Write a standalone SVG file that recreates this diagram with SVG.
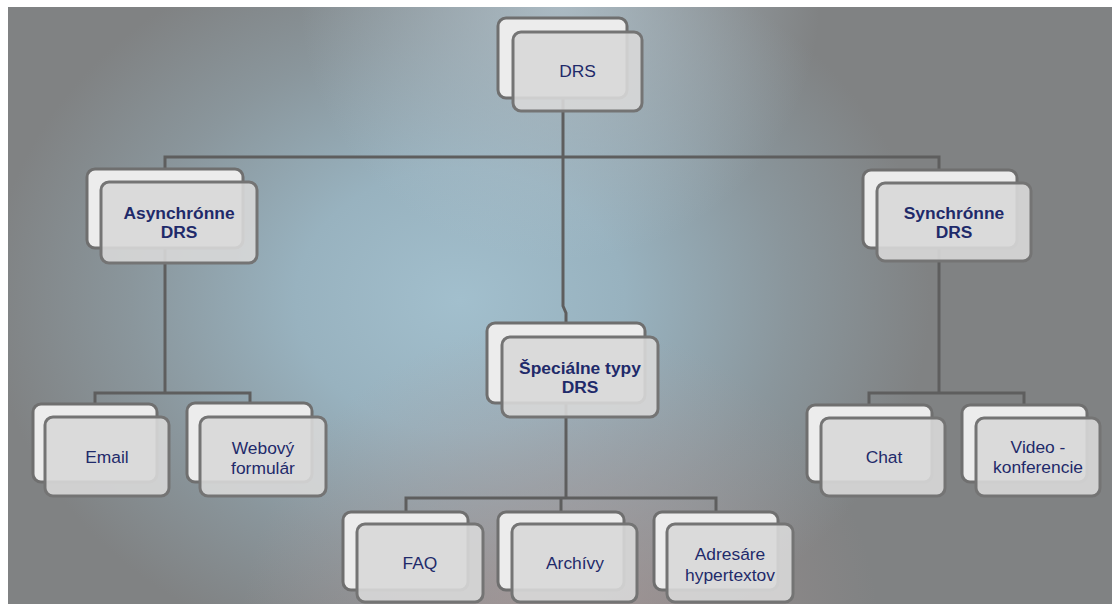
<svg xmlns="http://www.w3.org/2000/svg" width="1112" height="604" viewBox="0 0 1112 604">
  <defs>
    <radialGradient id="glow" cx="460" cy="300" r="470" gradientUnits="userSpaceOnUse" gradientTransform="translate(460 300) scale(1 0.8) translate(-460 -300)">
      <stop offset="0" stop-color="#a2bfcd"/>
      <stop offset="0.35" stop-color="#98b2bf"/>
      <stop offset="0.7" stop-color="#8a969c"/>
      <stop offset="1" stop-color="#808283"/>
    </radialGradient>
    <radialGradient id="topGlow" cx="560" cy="0" r="260" gradientUnits="userSpaceOnUse">
      <stop offset="0" stop-color="#b4c5cf" stop-opacity="0.8"/>
      <stop offset="1" stop-color="#b4c5cf" stop-opacity="0"/>
    </radialGradient>
    <radialGradient id="bottomGlow" cx="560" cy="640" r="320" gradientUnits="userSpaceOnUse">
      <stop offset="0" stop-color="#b09a98" stop-opacity="0.7"/>
      <stop offset="1" stop-color="#b09a98" stop-opacity="0"/>
    </radialGradient>
  </defs>
  <style>
    .bg-back { fill: #ececec; stroke: #6f6f6f; stroke-width: 3; }
    .bg-front { fill: #d8d8d8; fill-opacity: 0.9; stroke: #747474; stroke-width: 3; }
    .link { fill: none; stroke: #5e5e5e; stroke-width: 3; }
    .lbl { font-family: "Liberation Sans", Arial, sans-serif; font-size: 17.4px; fill: #1f2a6a; text-anchor: middle; }
    .bold { font-weight: bold; }
  </style>

  <!-- backdrop -->
  <rect x="0" y="0" width="1112" height="604" fill="#ffffff"/>
  <rect x="8" y="7" width="1104" height="597" fill="url(#glow)"/>
  <rect x="8" y="7" width="1104" height="597" fill="url(#topGlow)"/>
  <rect x="8" y="7" width="1104" height="597" fill="url(#bottomGlow)"/>

  <!-- connectors -->
  <g id="connectors" class="link">
    <path d="M563,98 V306 L566,313 V323"/>
    <path d="M165,169 V157 H939 V170"/>
    <path d="M165,248 V393"/>
    <path d="M95,404 V393 H250 V403"/>
    <path d="M939,248 V393"/>
    <path d="M869,405 V393 H1024 V405"/>
    <path d="M566,403 V498"/>
    <path d="M406,512 V498 H716 V512"/>
    <path d="M561,498 V512"/>
  </g>

  <!-- nodes -->
  <g id="drs">
    <rect class="bg-back" x="498" y="18" width="129" height="80" rx="8"/>
    <rect class="bg-front" x="513" y="32" width="129" height="79" rx="8"/>
    <text class="lbl" x="577.5" y="77">DRS</text>
  </g>

  <g id="asynchronne">
    <rect class="bg-back" x="87" y="169" width="156" height="79" rx="8"/>
    <rect class="bg-front" x="101" y="182" width="156" height="81" rx="8"/>
    <text class="lbl bold" x="179" y="219">Asynchrónne</text>
    <text class="lbl bold" x="179" y="238">DRS</text>
  </g>

  <g id="synchronne">
    <rect class="bg-back" x="863" y="170" width="154" height="78" rx="8"/>
    <rect class="bg-front" x="877" y="183" width="154" height="78" rx="8"/>
    <text class="lbl bold" x="954" y="219">Synchrónne</text>
    <text class="lbl bold" x="954" y="238">DRS</text>
  </g>

  <g id="specialne">
    <rect class="bg-back" x="487" y="323" width="158" height="80" rx="8"/>
    <rect class="bg-front" x="502" y="337" width="156" height="80" rx="8"/>
    <text class="lbl bold" x="580" y="374">Špeciálne typy</text>
    <text class="lbl bold" x="580" y="393">DRS</text>
  </g>

  <g id="email">
    <rect class="bg-back" x="33" y="404" width="124" height="78" rx="8"/>
    <rect class="bg-front" x="45" y="417" width="124" height="79" rx="8"/>
    <text class="lbl" x="107" y="463">Email</text>
  </g>

  <g id="webovy">
    <rect class="bg-back" x="187" y="403" width="125" height="79" rx="8"/>
    <rect class="bg-front" x="200" y="417" width="126" height="79" rx="8"/>
    <text class="lbl" x="263" y="454">Webový</text>
    <text class="lbl" x="263" y="474">formulár</text>
  </g>

  <g id="chat">
    <rect class="bg-back" x="807" y="405" width="125" height="77" rx="8"/>
    <rect class="bg-front" x="821" y="418" width="124" height="78" rx="8"/>
    <text class="lbl" x="884" y="463">Chat</text>
  </g>

  <g id="video">
    <rect class="bg-back" x="962" y="405" width="125" height="77" rx="8"/>
    <rect class="bg-front" x="976" y="418" width="124" height="78" rx="8"/>
    <text class="lbl" x="1038" y="453">Video -</text>
    <text class="lbl" x="1038" y="473">konferencie</text>
  </g>

  <g id="faq">
    <rect class="bg-back" x="343" y="512" width="125" height="78" rx="8"/>
    <rect class="bg-front" x="357" y="524" width="126" height="78" rx="8"/>
    <text class="lbl" x="420" y="569">FAQ</text>
  </g>

  <g id="archivy">
    <rect class="bg-back" x="498" y="512" width="126" height="78" rx="8"/>
    <rect class="bg-front" x="512" y="524" width="125" height="78" rx="8"/>
    <text class="lbl" x="575" y="569">Archívy</text>
  </g>

  <g id="adresare">
    <rect class="bg-back" x="654" y="512" width="124" height="78" rx="8"/>
    <rect class="bg-front" x="667" y="524" width="126" height="78" rx="8"/>
    <text class="lbl" x="730" y="560">Adresáre</text>
    <text class="lbl" x="730" y="581">hypertextov</text>
  </g>
</svg>
